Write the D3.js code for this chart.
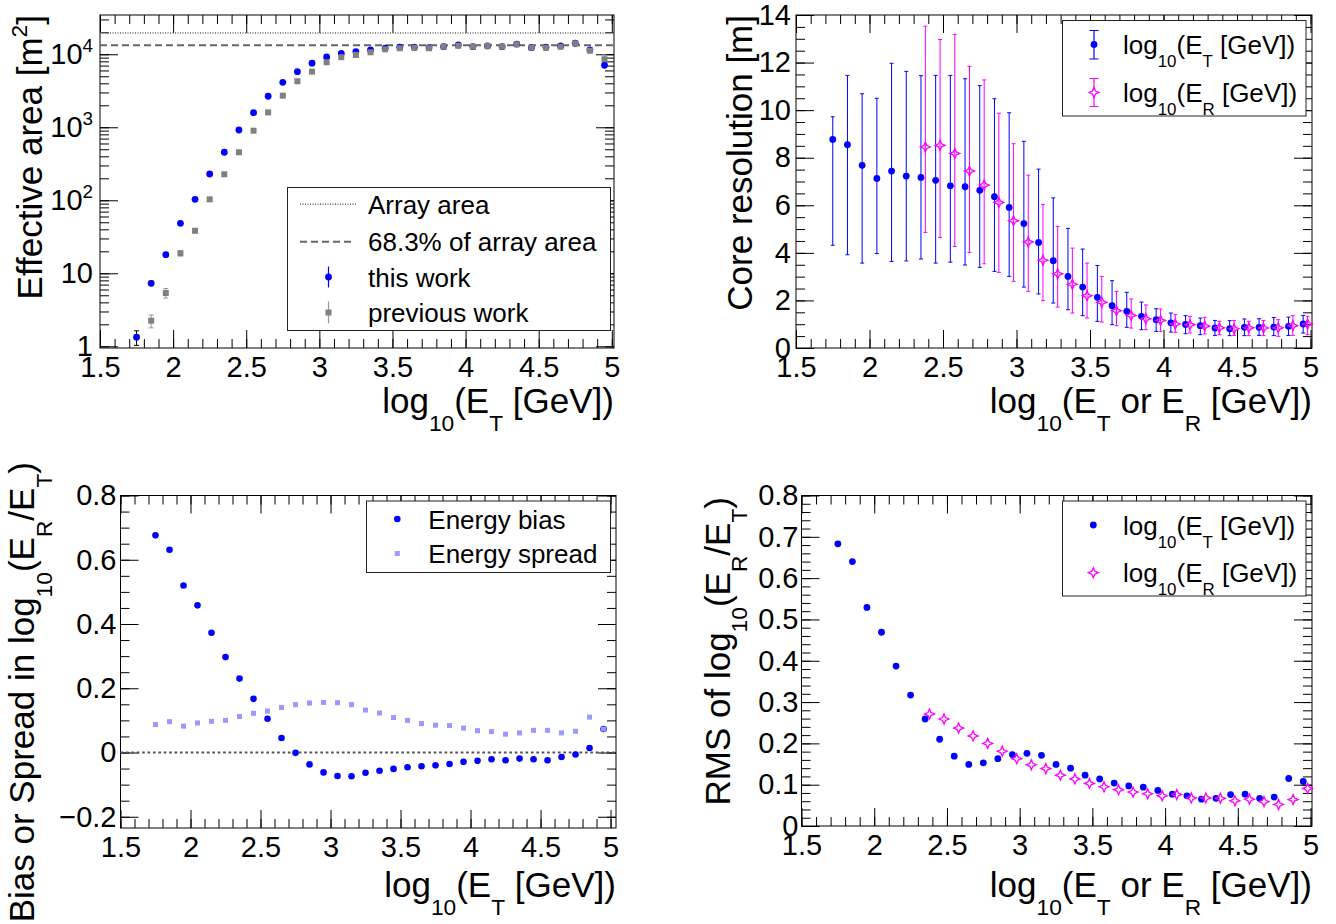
<!DOCTYPE html>
<html>
<head>
<meta charset="utf-8">
<script src="https://cdn.jsdelivr.net/npm/d3@7"></script>
<style>
  body { margin: 0; background: #fff; }
  text { font-family: "Liberation Sans", Arial, sans-serif; }
</style>
</head>
<body>
<script>
// ---- data ----
const binCenters = [1.75, 1.85, 1.95, 2.05, 2.15, 2.25, 2.35, 2.45, 2.55, 2.65, 2.75, 2.85, 2.95,
  3.05, 3.15, 3.25, 3.35, 3.45, 3.55, 3.65, 3.75, 3.85, 3.95, 4.05, 4.15, 4.25, 4.35, 4.45,
  4.55, 4.65, 4.75, 4.85, 4.95];
const recoBinCenters = [2.35, 2.45, 2.55, 2.65, 2.75, 2.85, 2.95, 3.05, 3.15, 3.25, 3.35, 3.45,
  3.55, 3.65, 3.75, 3.85, 3.95, 4.05, 4.15, 4.25, 4.35, 4.45, 4.55, 4.65, 4.75, 4.85, 4.95];

// effective area [m^2]
const arrayArea = 19500;
const arrayArea683 = 13300;
const effThisWork = [1.33, 7.3, 18, 48.4, 103, 229, 455, 918, 1585, 2660, 4130, 5780, 7530, 9180,
  10300, 10860, 11460, 12090, 12470, 12470, 12300, 12700, 13400, 12700, 13000, 12700, 13800,
  12300, 12470, 13000, 14150, 11460, 7070];
const effThisErr = [0.3, 0.5, 0.9, 1.5, 2.5, 4, 6, 9, 13, 18, 24, 30, 36, 42, 46, 50, 52, 55, 58,
  60, 62, 64, 68, 70, 75, 80, 90, 100, 110, 130, 160, 200, 260];
const effPrevWork = [null, 2.24, 5.37, 18.8, 38.3, 103, 227, 455, 898, 1600, 2710, 4270, 5780, 7770,
  9120, 9800, 10650, 11700, 12090, 12300, 12090, 12700, 13100, 12700, 13000, 12700, 13700,
  12300, 12300, 12700, 14150, 11200, 8550];
const effPrevErr = [0, 0.45, 0.8, 1.5, 2.5, 4, 6, 10, 15, 20, 30, 40, 50, 60, 70, 80, 90, 100, 110,
  110, 110, 120, 120, 120, 130, 130, 140, 150, 160, 200, 250, 400, 1200];

// core resolution [m]
const coreTrue = [8.77, 8.55, 7.68, 7.13, 7.44, 7.23, 7.17, 7.05, 6.82, 6.78, 6.63, 6.36, 5.91, 5.23,
  4.44, 3.67, 3.01, 2.56, 2.13, 1.78, 1.54, 1.33, 1.19, 1.06, 0.99, 0.94, 0.84, 0.81, 0.87, 0.87,
  0.88, 0.91, 1.01];
const coreTrueLow = [4.32, 3.92, 3.57, 3.97, 3.64, 3.66, 3.74, 3.57, 3.61, 3.49, 3.39, 3.22, 3.01,
  2.56, 2.27, 1.89, 1.61, 1.36, 1.12, 0.98, 0.87, 0.77, 0.70, 0.67, 0.60, 0.56, 0.53, 0.52, 0.52,
  0.53, 0.52, 0.53, 0.63];
const coreTrueHigh = [9.72, 11.46, 10.69, 10.50, 11.97, 11.63, 11.45, 11.46, 11.46, 11.32, 11.03,
  10.48, 9.89, 8.69, 7.52, 6.31, 5.03, 4.16, 3.47, 2.83, 2.34, 1.93, 1.65, 1.47, 1.36, 1.26, 1.16,
  1.15, 1.22, 1.23, 1.28, 1.30, 1.37];
const coreReco = [8.45, 8.52, 8.18, 7.44, 6.85, 6.12, 5.35, 4.46, 3.69, 3.12, 2.68, 2.20, 1.92, 1.57,
  1.37, 1.23, 1.16, 1.01, 0.98, 0.92, 0.85, 0.81, 0.85, 0.84, 0.85, 0.94, 1.01];
const coreRecoLow = [4.86, 4.65, 4.27, 4.02, 3.54, 3.18, 2.80, 2.38, 1.99, 1.72, 1.47, 1.26, 1.09,
  0.94, 0.84, 0.77, 0.70, 0.66, 0.63, 0.59, 0.56, 0.53, 0.52, 0.52, 0.49, 0.53, 0.56];
const coreRecoHigh = [13.53, 12.97, 13.18, 11.84, 11.27, 9.87, 8.59, 7.27, 6.03, 5.11, 4.20, 3.57,
  3.01, 2.38, 2.06, 1.81, 1.64, 1.40, 1.33, 1.29, 1.12, 1.16, 1.12, 1.16, 1.19, 1.36, 1.33];

// energy bias / spread in log10(ER/ET)
const energyBias = [0.676, 0.631, 0.520, 0.458, 0.373, 0.297, 0.230, 0.167, 0.105, 0.045, -0.001,
  -0.037, -0.062, -0.073, -0.074, -0.063, -0.057, -0.051, -0.046, -0.043, -0.040, -0.036, -0.029,
  -0.026, -0.021, -0.024, -0.019, -0.021, -0.024, -0.014, -0.006, 0.014, 0.073];
const energySpread = [0.087, 0.096, 0.082, 0.092, 0.097, 0.100, 0.112, 0.122, 0.129, 0.140, 0.149,
  0.154, 0.156, 0.155, 0.149, 0.132, 0.123, 0.109, 0.100, 0.090, 0.085, 0.084, 0.076, 0.068, 0.065,
  0.057, 0.061, 0.069, 0.069, 0.061, 0.066, 0.110, 0.073];

// RMS of log10(ER/ET)
const rmsTrue = [0.683, 0.640, 0.529, 0.469, 0.387, 0.317, 0.259, 0.210, 0.169, 0.149, 0.153, 0.163,
  0.173, 0.176, 0.171, 0.149, 0.140, 0.123, 0.114, 0.104, 0.097, 0.094, 0.086, 0.077, 0.073, 0.065,
  0.067, 0.076, 0.077, 0.067, 0.070, 0.115, 0.108];
const rmsReco = [0.271, 0.259, 0.237, 0.218, 0.200, 0.181, 0.163, 0.148, 0.139, 0.123, 0.114, 0.103,
  0.095, 0.088, 0.082, 0.078, 0.073, 0.076, 0.068, 0.068, 0.067, 0.061, 0.065, 0.059, 0.052, 0.064,
  0.091];

// tick labels
const xMajorTicks = [1.5, 2, 2.5, 3, 3.5, 4, 4.5, 5];
const effTicks = [1, 10, 100, 1000, 10000];
const coreTicks = [0, 2, 4, 6, 8, 10, 12, 14];
const biasTicks = [-0.2, 0, 0.2, 0.4, 0.6, 0.8];
const rmsTicks = [0, 0.1, 0.2, 0.3, 0.4, 0.5, 0.6, 0.7, 0.8];

// ---- drawing ----
const W = 1336, H = 924;
const BLUE = "#0000ff", MAGENTA = "#ff00ff", GREY = "#808080", LIGHTBLUE = "#9999ff";
const TICK_FS = 29, TITLE_FS = 35, LEG_FS = 26;
const recoShift = 0.03;

const svg = d3.select("body").append("svg").attr("width", W).attr("height", H);
svg.append("rect").attr("width", W).attr("height", H).attr("fill", "#fff");

// text with _{sub} and ^{sup}
function richText(sel, str, size) {
  const re = /([_^])\{([^}]*)\}|([^_^]+)/g;
  let m, cur = 0;
  while ((m = re.exec(str))) {
    let shift = 0, fs = size, txt;
    if (m[1]) {
      txt = m[2];
      fs = size * 0.65;
      shift = m[1] === "_" ? size * 0.5 : -size * 0.42;
    } else txt = m[3];
    const t = sel.append("tspan").attr("font-size", fs).text(txt);
    if (shift !== cur) t.attr("dy", shift - cur);
    cur = shift;
  }
  return sel;
}

const minorX = d3.range(15, 51).map(v => v / 10);

function makePanel(o) {
  const x = d3.scaleLinear().domain(o.xDom).range([o.x0, o.x1]);
  const y = (o.log ? d3.scaleLog() : d3.scaleLinear()).domain(o.yDom).range([o.y1, o.y0]);
  const g = svg.append("g");
  const ax = (axis, tx, ty) => g.append("g")
    .attr("transform", `translate(${tx},${ty})`)
    .call(axis)
    .call(s => s.select(".domain").remove());

  // ticks on all four sides, pointing in
  [[d3.axisBottom, o.y1], [d3.axisTop, o.y0]].forEach(([f, ty]) => {
    ax(f(x).tickValues(minorX).tickSize(-9).tickFormat(""), 0, ty);
    ax(f(x).tickValues(xMajorTicks).tickSize(-18).tickFormat(""), 0, ty);
  });
  [[d3.axisLeft, o.x0], [d3.axisRight, o.x1]].forEach(([f, tx]) => {
    ax(f(y).tickValues(o.yMinor).tickSize(-9).tickFormat(""), tx, 0);
    ax(f(y).tickValues(o.yMajor).tickSize(-18).tickFormat(""), tx, 0);
  });

  // tick labels
  ax(d3.axisBottom(x).tickValues(xMajorTicks).tickSize(0).tickPadding(8)
    .tickFormat(d => String(d)), 0, o.y1)
    .selectAll("text").attr("font-size", TICK_FS).attr("fill", "#000");
  const yl = ax(d3.axisLeft(y).tickValues(o.yMajor).tickSize(0).tickPadding(o.yPad)
    .tickFormat(""), o.x0, 0);
  yl.selectAll(".tick text").each(function (d) {
    richText(d3.select(this).attr("font-size", TICK_FS).attr("fill", "#000"), o.yFmt(d), TICK_FS);
  });

  // frame
  g.append("rect").attr("x", o.x0).attr("y", o.y0)
    .attr("width", o.x1 - o.x0).attr("height", o.y1 - o.y0)
    .attr("fill", "none").attr("stroke", "#000").attr("stroke-width", 1);

  // axis titles
  richText(g.append("text").attr("x", o.x1).attr("y", o.xTitleY)
    .attr("text-anchor", "end").attr("fill", "#000"), o.xTitle, TITLE_FS);
  richText(g.append("text")
    .attr("transform", `translate(${o.yTitleX},${o.yTitleEnd}) rotate(-90)`)
    .attr("text-anchor", "end").attr("fill", "#000"), o.yTitle, TITLE_FS);

  return { g, x, y };
}

function errBars(g, xs, lo, hi, color, cap) {
  g.append("g").selectAll("path").data(xs).join("path")
    .attr("d", (d, i) => {
      const a = lo[i], b = hi[i];
      const c = cap ? `M${d.x - cap},${a}H${d.x + cap}M${d.x - cap},${b}H${d.x + cap}` : "";
      return `M${d.x},${a}V${b}` + c;
    })
    .attr("stroke", color).attr("stroke-width", 1).attr("fill", "none");
}

function star(sel, r) {
  const a = r * 0.3;
  sel.attr("d", `M0,${-r}L${a},${-a}L${r},0L${a},${a}L0,${r}L${-a},${a}L${-r},0L${-a},${-a}Z`)
    .attr("fill", "none").attr("stroke", MAGENTA).attr("stroke-width", 1.3);
}

function legendBox(g, x0, y0, x1, y1) {
  g.append("rect").attr("x", x0).attr("y", y0).attr("width", x1 - x0).attr("height", y1 - y0)
    .attr("fill", "#fff").attr("stroke", "#222").attr("stroke-width", 1);
}
function legendText(g, x, cy, str) {
  richText(g.append("text").attr("x", x).attr("y", cy + 9.5).attr("fill", "#000"), str, LEG_FS);
}

// ---------- panel 1: effective area ----------
{
  const logMinor = [];
  [1, 10, 100, 1000, 10000].forEach(d => { for (let k = 1; k <= 9; k++) logMinor.push(k * d); });
  const p = makePanel({
    x0: 100, x1: 614, y0: 15, y1: 348, xDom: [1.5, 5.015],
    log: true, yDom: [0.948, 34500], yMajor: effTicks,
    yMinor: logMinor.filter(v => v < 34500),
    yPad: 7,
    yFmt: d => d === 1 ? "1" : d === 10 ? "10" : "10^{" + Math.round(Math.log10(d)) + "}",
    xTitle: "log_{10}(E_{T} [GeV])", xTitleY: 413,
    yTitle: "Effective area [m^{2}]", yTitleX: 42, yTitleEnd: 15
  });
  const { g, x, y } = p;
  g.append("line").attr("x1", 100).attr("x2", 614).attr("y1", y(arrayArea)).attr("y2", y(arrayArea))
    .attr("stroke", "#666").attr("stroke-width", 1.5).attr("stroke-dasharray", "1,1.5");
  g.append("line").attr("x1", 100).attr("x2", 614).attr("y1", y(arrayArea683)).attr("y2", y(arrayArea683))
    .attr("stroke", "#666").attr("stroke-width", 2).attr("stroke-dasharray", "7,4");

  const thisPts = binCenters.map((b, i) => ({ x: x(b), v: effThisWork[i] }));
  const prevPts = binCenters.map((b, i) => ({ x: x(b), v: effPrevWork[i], e: effPrevErr[i] }))
    .filter(d => d.v !== null);
  errBars(g, thisPts, thisPts.map((d, i) => y(Math.max(d.v - effThisErr[i], 0.95))),
    thisPts.map((d, i) => y(d.v + effThisErr[i])), "#000", 2.5);
  errBars(g, prevPts, prevPts.map(d => y(d.v - d.e)), prevPts.map(d => y(d.v + d.e)), "#999", 2.5);
  g.append("g").selectAll("circle").data(thisPts).join("circle")
    .attr("cx", d => d.x).attr("cy", d => y(d.v)).attr("r", 3.4).attr("fill", BLUE);
  g.append("g").selectAll("rect").data(prevPts).join("rect")
    .attr("x", d => d.x - 3).attr("y", d => y(d.v) - 3).attr("width", 6).attr("height", 6)
    .attr("fill", GREY);

  // legend
  legendBox(g, 287.5, 187.5, 610.5, 330.5);
  g.append("line").attr("x1", 300).attr("x2", 357).attr("y1", 204.3).attr("y2", 204.3)
    .attr("stroke", "#666").attr("stroke-width", 1.5).attr("stroke-dasharray", "1,1.5");
  g.append("line").attr("x1", 300).attr("x2", 355).attr("y1", 241.7).attr("y2", 241.7)
    .attr("stroke", "#666").attr("stroke-width", 2).attr("stroke-dasharray", "7,4");
  g.append("line").attr("x1", 328.5).attr("x2", 328.5).attr("y1", 266.5).attr("y2", 287.5)
    .attr("stroke", BLUE).attr("stroke-width", 1.2);
  g.append("circle").attr("cx", 328.5).attr("cy", 277).attr("r", 3.4).attr("fill", BLUE);
  g.append("line").attr("x1", 328.5).attr("x2", 328.5).attr("y1", 301.5).attr("y2", 323.5)
    .attr("stroke", "#999").attr("stroke-width", 1.2);
  g.append("rect").attr("x", 325.5).attr("y", 309.5).attr("width", 6).attr("height", 6).attr("fill", GREY);
  legendText(g, 368, 204.3, "Array area");
  legendText(g, 368, 241.7, "68.3% of array area");
  legendText(g, 368, 277, "this work");
  legendText(g, 368, 312.3, "previous work");
}

// ---------- panel 2: core resolution ----------
{
  const p = makePanel({
    x0: 796, x1: 1312, y0: 15, y1: 348, xDom: [1.5, 5.01],
    yDom: [0, 14], yMajor: coreTicks, yMinor: d3.range(0, 29).map(v => v / 2),
    yPad: 5, yFmt: d => String(d),
    xTitle: "log_{10}(E_{T} or E_{R} [GeV])", xTitleY: 413,
    yTitle: "Core resolution [m]", yTitleX: 751.5, yTitleEnd: 15
  });
  const { g, x, y } = p;
  const tPts = binCenters.map((b, i) => ({ x: x(b), v: coreTrue[i] }));
  const rPts = recoBinCenters.map((b, i) => ({ x: x(b + recoShift), v: coreReco[i] }));
  errBars(g, tPts, coreTrueLow.map(y), coreTrueHigh.map(y), BLUE, 2);
  errBars(g, rPts, coreRecoLow.map(y), coreRecoHigh.map(y), MAGENTA, 2);
  g.append("g").selectAll("circle").data(tPts).join("circle")
    .attr("cx", d => d.x).attr("cy", d => y(d.v)).attr("r", 3.4).attr("fill", BLUE);
  g.append("g").selectAll("path").data(rPts).join("path")
    .attr("transform", d => `translate(${d.x},${y(d.v)})`).call(star, 5);

  legendBox(g, 1062.5, 20.5, 1306, 116);
  g.append("path").attr("d", "M1094,30.5V59M1089.5,30.5H1098.5M1089.5,59H1098.5")
    .attr("stroke", BLUE).attr("stroke-width", 1.2).attr("fill", "none");
  g.append("circle").attr("cx", 1094).attr("cy", 44.5).attr("r", 3.4).attr("fill", BLUE);
  g.append("path").attr("d", "M1094,78.5V106.5M1089.5,78.5H1098.5M1089.5,106.5H1098.5")
    .attr("stroke", MAGENTA).attr("stroke-width", 1.2).attr("fill", "none");
  g.append("path").attr("transform", "translate(1094,92.5)").call(star, 5)
    .attr("fill", "#fff");
  legendText(g, 1123, 44.5, "log_{10}(E_{T} [GeV])");
  legendText(g, 1123, 92.5, "log_{10}(E_{R} [GeV])");
}

// ---------- panel 3: energy bias / spread ----------
{
  const p = makePanel({
    x0: 120.5, x1: 616, y0: 495.5, y1: 828, xDom: [1.5, 5.039],
    yDom: [-0.235, 0.8], yMajor: biasTicks, yMinor: d3.range(-4, 17).map(v => v / 20),
    yPad: 4, yFmt: d => d < 0 ? "\u2212" + String(-d) : String(d),
    xTitle: "log_{10}(E_{T} [GeV])", xTitleY: 897,
    yTitle: "Bias or Spread in log_{10}(E_{R}/E_{T})", yTitleX: 34, yTitleEnd: 462
  });
  const { g, x, y } = p;
  g.append("line").attr("x1", 120.5).attr("x2", 616).attr("y1", y(0)).attr("y2", y(0))
    .attr("stroke", "#555").attr("stroke-width", 2).attr("stroke-dasharray", "2.7,2.7");
  g.append("g").selectAll("circle").data(binCenters).join("circle")
    .attr("cx", d => x(d)).attr("cy", (d, i) => y(energyBias[i])).attr("r", 3.3).attr("fill", BLUE);
  g.append("g").selectAll("rect").data(binCenters).join("rect")
    .attr("x", d => x(d) - 2.5).attr("y", (d, i) => y(energySpread[i]) - 2.5)
    .attr("width", 5).attr("height", 5).attr("fill", LIGHTBLUE);

  legendBox(g, 366.5, 501, 610.5, 572.5);
  g.append("circle").attr("cx", 397.3).attr("cy", 519).attr("r", 3.3).attr("fill", BLUE);
  g.append("rect").attr("x", 394.8).attr("y", 551).attr("width", 5).attr("height", 5).attr("fill", LIGHTBLUE);
  legendText(g, 428.3, 519, "Energy bias");
  legendText(g, 428.3, 553.3, "Energy spread");
}

// ---------- panel 4: RMS ----------
{
  const p = makePanel({
    x0: 801.5, x1: 1312, y0: 495.5, y1: 826, xDom: [1.5, 5.01],
    yDom: [0, 0.8], yMajor: rmsTicks, yMinor: d3.range(0, 41).map(v => v / 50),
    yPad: 3, yFmt: d => String(d),
    xTitle: "log_{10}(E_{T} or E_{R} [GeV])", xTitleY: 897,
    yTitle: "RMS of log_{10}(E_{R}/E_{T})", yTitleX: 729.5, yTitleEnd: 497
  });
  const { g, x, y } = p;
  g.append("g").selectAll("circle").data(binCenters).join("circle")
    .attr("cx", d => x(d)).attr("cy", (d, i) => y(rmsTrue[i])).attr("r", 3.4).attr("fill", BLUE);
  g.append("g").selectAll("path").data(recoBinCenters).join("path")
    .attr("transform", (d, i) => `translate(${x(d + recoShift)},${y(rmsReco[i])})`).call(star, 5);

  legendBox(g, 1062.5, 501, 1306, 596);
  g.append("circle").attr("cx", 1093.3).attr("cy", 525).attr("r", 3.4).attr("fill", BLUE);
  g.append("path").attr("transform", "translate(1093.3,572.7)").call(star, 5);
  legendText(g, 1123, 525, "log_{10}(E_{T} [GeV])");
  legendText(g, 1123, 572.7, "log_{10}(E_{R} [GeV])");
}
</script>
</body>
</html>
